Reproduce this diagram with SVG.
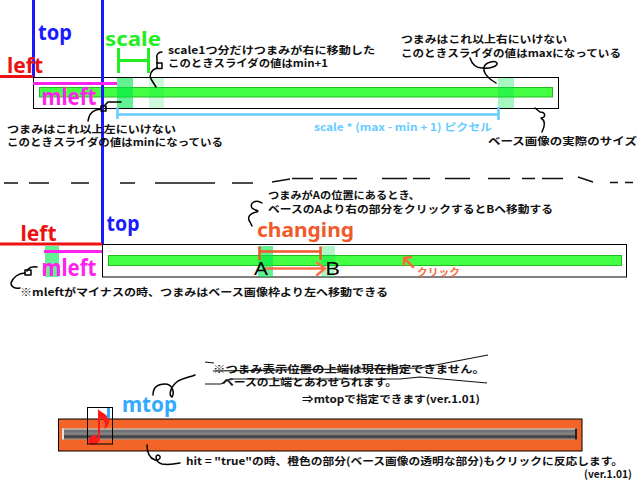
<svg xmlns="http://www.w3.org/2000/svg" width="640" height="480" viewBox="0 0 640 480">
<defs>
<style>
.jp{font-family:"Noto Sans CJK JP","Noto Sans CJK SC",sans-serif;font-size:10.5px;font-weight:bold;fill:#111}
.lbl{font-family:"Noto Sans","DejaVu Sans",sans-serif;font-weight:bold}
.sq{fill:none;stroke:#000000;stroke-width:1.5;stroke-linecap:round;stroke-linejoin:round}
.box{fill:#fff;stroke:#000;stroke-width:1}
.bar{fill:#44ff44;stroke:#22bb22;stroke-width:1}
.k{fill:#00e64d}
.dash{stroke:#111;stroke-width:1.6;fill:none}
.ln{fill:none;stroke-width:3}
</style>
<linearGradient id="gray" x1="0" y1="0" x2="0" y2="1">
<stop offset="0" stop-color="#d8d8d8"/>
<stop offset="0.2" stop-color="#6a6a6a"/>
<stop offset="0.5" stop-color="#888"/>
<stop offset="0.75" stop-color="#333"/>
<stop offset="1" stop-color="#999"/>
</linearGradient>
</defs>
<rect width="640" height="480" fill="#fff"/>

<!-- Slider 1 -->
<g id="slider1">
<rect class="box" x="33.5" y="77.5" width="525" height="31"/>
<rect class="bar" x="39.5" y="87.5" width="513" height="9.5"/>
<rect class="k" x="117" y="78" width="16" height="30" opacity="0.6"/>
<rect class="k" x="149" y="78" width="15" height="30" opacity="0.2"/>
<rect class="k" x="498" y="78" width="16" height="30" opacity="0.35"/>
</g>

<g id="guides1">
<line class="ln" x1="33.5" y1="0" x2="33.5" y2="77" stroke="#1a1aff"/>
<line class="ln" x1="102.5" y1="0" x2="102.5" y2="244" stroke="#1a1aff"/>
<line class="ln" x1="0" y1="76.5" x2="33" y2="76.5" stroke="#ee1111"/>
<line class="ln" x1="33" y1="83.5" x2="117" y2="83.5" stroke="#ff22ee"/>
<path class="ln" d="M118.5,48 V73 M148.5,48 V73 M118.5,60.5 H148.5" stroke="#22ee22"/>
<path d="M117.5,107 V119 M117.5,114.5 H498.5 M498.5,107 V120" fill="none" stroke="#66ccff" stroke-width="2.5"/>
</g>

<g id="labels1">
<text class="lbl" x="38" y="40" font-size="22" fill="#1a1aff" textLength="34" lengthAdjust="spacingAndGlyphs">top</text>
<text class="lbl" x="105" y="46" font-size="19" fill="#22ee22" textLength="56" lengthAdjust="spacingAndGlyphs">scale</text>
<text class="lbl" x="7" y="73" font-size="21" fill="#ee1111" textLength="36" lengthAdjust="spacingAndGlyphs">left</text>
<text class="lbl" x="41.5" y="105" font-size="23" fill="#ff22ee" textLength="55" lengthAdjust="spacingAndGlyphs">mleft</text>
<text class="jp" x="168" y="53.5" textLength="207" lengthAdjust="spacingAndGlyphs">scale1つ分だけつまみが右に移動した</text>
<text class="jp" x="168" y="67" textLength="160" lengthAdjust="spacingAndGlyphs">このときスライダの値はmin+1</text>
<text class="jp" x="401" y="43" textLength="166" lengthAdjust="spacingAndGlyphs">つまみはこれ以上右にいけない</text>
<text class="jp" x="401" y="56.5" textLength="220" lengthAdjust="spacingAndGlyphs">このときスライダの値はmaxになっている</text>
<text class="jp" x="7" y="132.5" textLength="169" lengthAdjust="spacingAndGlyphs">つまみはこれ以上左にいけない</text>
<text class="jp" x="7" y="146" textLength="216" lengthAdjust="spacingAndGlyphs">このときスライダの値はminになっている</text>
<text class="jp" x="314" y="131" style="fill:#66ccff" textLength="178" lengthAdjust="spacingAndGlyphs">scale * (max - min + 1) ピクセル</text>
<text class="jp" x="488" y="145" textLength="149" lengthAdjust="spacingAndGlyphs">ベース画像の実際のサイズ</text>
</g>

<!-- separator -->
<g id="separator">
<path class="dash" d="M4,183H18 M29,183H49 M71,183H89 M120,183H135 M155,183H215 M232,183H253 M272,182L290,179 M292,178.5H313 M320,178.5H337 M343,178.5H357 M382,178.5H407 M413,178.5H430 M445,178.5H470 M488,178.5H510 M522,178.5H535 M542,178.5H563 M578,177L593,182 M610,182.5H618 M625,182.5H633"/>
</g>

<!-- Slider 2 -->
<g id="slider2">
<rect class="box" x="102.5" y="244.5" width="524" height="32.5"/>
<rect class="bar" x="108.5" y="255.5" width="513" height="10"/>
<rect class="k" x="45" y="246" width="14" height="31" opacity="0.6"/>
<rect class="k" x="258" y="246" width="15" height="31" opacity="0.6"/>
<rect class="k" x="321" y="246" width="14" height="31" opacity="0.3"/>
</g>

<g id="guides2">
<line class="ln" x1="0" y1="244" x2="102" y2="244" stroke="#ee1111"/>
<line class="ln" x1="44" y1="251.5" x2="102" y2="251.5" stroke="#ff22ee" stroke-width="2.5"/>
<path d="M259.5,246.5V260 M320.5,246.5V260 M259.5,251.5H320.5" fill="none" stroke="#f05a2a" stroke-width="2.5"/>
<path d="M266,268.5H324 M317,262.5L325,268.5L317,275" fill="none" stroke="#ff6e4e" stroke-width="2.5" stroke-linecap="round" stroke-linejoin="round"/>
<path d="M413,267L404,258 M404,258L411,257 M404,258L404,265" fill="none" stroke="#f86a3a" stroke-width="2.5" stroke-linecap="round"/>
</g>

<g id="labels2">
<text class="lbl" x="20.5" y="241" font-size="22" fill="#ee1111" textLength="36" lengthAdjust="spacingAndGlyphs">left</text>
<text class="lbl" x="106.5" y="231" font-size="22" fill="#1a1aff" textLength="33" lengthAdjust="spacingAndGlyphs">top</text>
<text class="lbl" x="41.5" y="276" font-size="23" fill="#ff22ee" textLength="55" lengthAdjust="spacingAndGlyphs">mleft</text>
<text class="lbl" x="257" y="237" font-size="20" fill="#f05a2a" textLength="97" lengthAdjust="spacingAndGlyphs">changing</text>
<text x="254" y="275" font-family="Noto Sans, DejaVu Sans, sans-serif" font-size="18" fill="#000" textLength="14" lengthAdjust="spacingAndGlyphs">A</text>
<text x="325" y="275" font-family="Noto Sans, DejaVu Sans, sans-serif" font-size="18" fill="#000" textLength="15" lengthAdjust="spacingAndGlyphs">B</text>
<text x="417" y="276" font-family="Noto Sans CJK JP, sans-serif" font-size="10" font-weight="bold" fill="#f86a3a" textLength="43" lengthAdjust="spacingAndGlyphs">クリック</text>
<text class="jp" x="268" y="199" textLength="152" lengthAdjust="spacingAndGlyphs">つまみがAの位置にあるとき、</text>
<text class="jp" x="268" y="212.5" textLength="285" lengthAdjust="spacingAndGlyphs">ベースのAより右の部分をクリックするとBへ移動する</text>
<text class="jp" x="20" y="296" textLength="368" lengthAdjust="spacingAndGlyphs">※mleftがマイナスの時、つまみはベース画像枠より左へ移動できる</text>
</g>

<!-- Slider 3 -->
<g id="slider3">
<rect x="58.5" y="419" width="523.5" height="32" fill="#f26428" stroke="#000" stroke-width="1"/>
<rect x="62" y="428.5" width="515" height="11" fill="url(#gray)"/>
<rect x="62" y="428.5" width="2" height="11" fill="#e0e0e0"/>
<rect x="575" y="428.5" width="2" height="11" fill="#222"/>
<g id="knob3">
<path d="M98,440 V409 C101,413 111,415 109,423 C108,426 106,428 104,429 C106,425 105,420 100,418 V438 C100,443 94,446 90,444 C86,441 90,434 96,435 Z" fill="#ff1a1a"/>
<rect x="87.5" y="407.5" width="25" height="36.5" fill="none" stroke="#000" stroke-width="1"/>
<line x1="108.5" y1="408" x2="108.5" y2="418" stroke="#33aaff" stroke-width="3"/>
</g>
</g>

<g id="labels3">
<text class="lbl" x="122" y="412" font-size="21" fill="#33aaff" textLength="55" lengthAdjust="spacingAndGlyphs">mtop</text>
<text class="jp" x="213" y="372.5" textLength="272" lengthAdjust="spacingAndGlyphs">※つまみ表示位置の上端は現在指定できません。</text>
<text class="jp" x="222" y="386" textLength="175" lengthAdjust="spacingAndGlyphs">ベースの上端とあわせられます。</text>
<text class="jp" x="302" y="403" textLength="178" lengthAdjust="spacingAndGlyphs">⇒mtopで指定できます(ver.1.01)</text>
<text class="jp" x="186" y="465" textLength="437" lengthAdjust="spacingAndGlyphs">hit = "true"の時、橙色の部分(ベース画像の透明な部分)もクリックに反応します。</text>
<text class="jp" x="584" y="478" font-size="10" textLength="48" lengthAdjust="spacingAndGlyphs">(ver.1.01)</text>
<path d="M205,362L214,363 M213,371L420,368L488,355 M205,384L221,384L230,379L400,379L420,377L487,383" fill="none" stroke="#111" stroke-width="1.2"/>
</g>

<!-- connectors: hand-drawn pointers -->
<g id="connectors" stroke="#000000" fill="none">
<path class="sq" d="M88,121 C89,116 90,112 96,110 L101,109"/>
<rect class="sq" x="101" y="106" width="5" height="5"/>
<path class="sq" d="M105,105 L108,102 L121,102"/>
<path class="sq" d="M162,52 C158,52 156,55 157,58 V63"/>
<rect class="sq" x="157" y="63" width="5" height="5.5"/>
<path class="sq" d="M157,68 C151,70 149,75 151,79 L156,87"/>
<path class="sq" d="M470,58 C472,64 476,68 482,68 C490,69 498,66 497,63 C495,60 486,62 484,67 C483,73 487,76 490,79 L496,83"/>
<path class="sq" d="M535,108 L540,112 C546,112 546,118 541,118 C546,121 545,126 542,132"/>
<path class="sq" d="M262,203 C256,199 249,203 252,208 C255,211 260,210 257,212 C249,213 247,218 250,222 L252,226"/>
<path class="sq" d="M37,267 C32,266 28,268 27,271"/>
<rect class="sq" x="25" y="270" width="6" height="5"/>
<path class="sq" d="M25,273 C19,273 13,277 11,283 C11,287 15,289 20,288"/>
<path class="sq" d="M153,395 C153,388 157,384 165,384 C172,384 175,392 172,397 C168,395 171,386 178,381 C184,378 190,377 195,375"/>
<path class="sq" d="M147,445 C147,452 149,458 155,460 C160,461 162,456 158,455 C155,455 155,462 162,464 C168,465 175,464 180,463"/>
</g>
</svg>
